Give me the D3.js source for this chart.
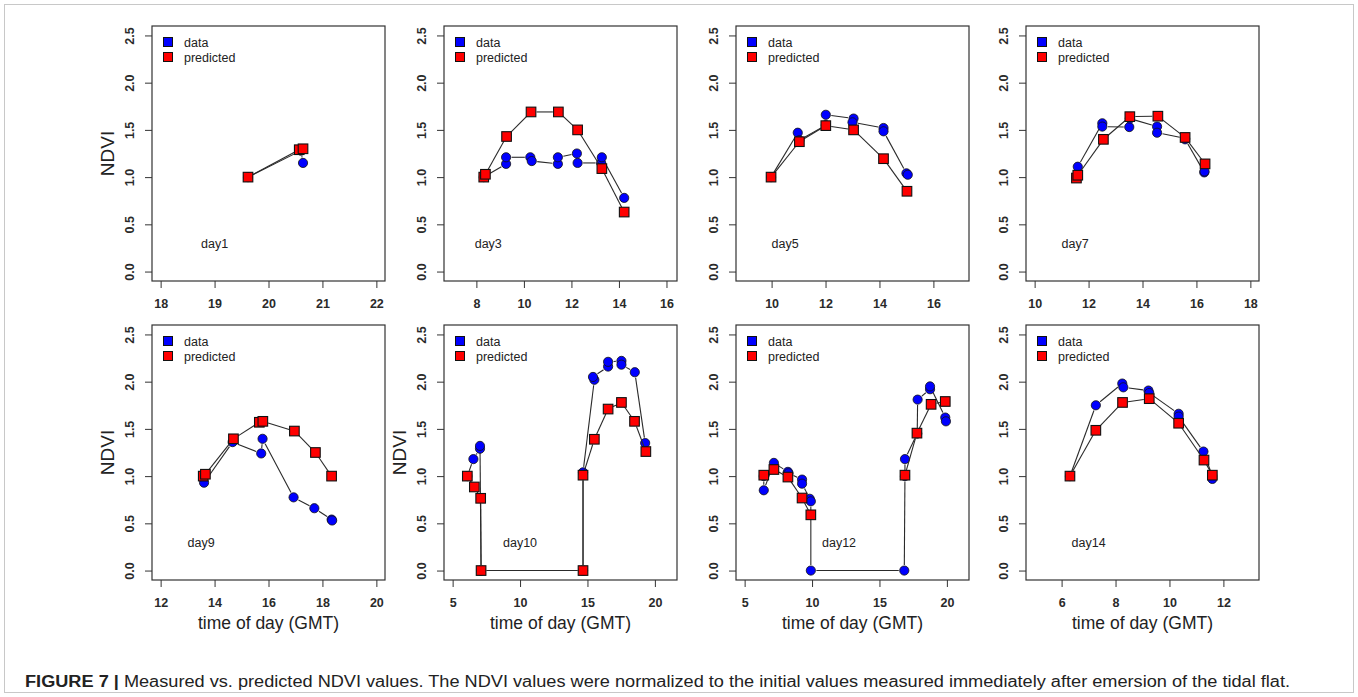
<!DOCTYPE html>
<html>
<head>
<meta charset="utf-8">
<script src="https://cdn.jsdelivr.net/npm/d3@7"></script>
<style>
  body { margin: 0; background: #fff; }
  svg { display: block; font-family: "Liberation Sans", Arial, sans-serif; }
</style>
</head>
<body>
<svg id="fig" width="1358" height="697"></svg>
<script>
// ---- data ----
let days = ["day1", "day3", "day5", "day7", "day9", "day10", "day12", "day14"];

// x axis limits (before R's 4% padding) and tick values
let xLimits = [[18, 22], [7, 16.08], [9, 17], [10, 18], [12, 20], [5, 21], [5, 21], [5, 13]];
let xTicks = [
    [18, 19, 20, 21, 22], [8, 10, 12, 14, 16], [10, 12, 14, 16], [10, 12, 14, 16, 18],
    [12, 14, 16, 18, 20], [5, 10, 15, 20], [5, 10, 15, 20], [6, 8, 10, 12]
];
let yTicks = [0, 0.5, 1, 1.5, 2, 2.5];

// measured NDVI (time GMT, value)
let dataTime = [
    [19.62, 20.6, 20.64],
    [8.31, 9.25, 9.25, 10.27, 10.33, 11.43, 11.43, 12.23, 12.26, 13.25, 13.28, 14.22],
    [9.98, 10.97, 11.03, 12.01, 12.01, 13.04, 13.0, 14.15, 14.15, 15.0, 15.05],
    [11.55, 11.6, 12.51, 12.51, 13.51, 13.53, 14.54, 14.54, 15.58, 15.58, 16.29, 16.3],
    [13.58, 13.61, 14.67, 15.73, 15.78, 16.93, 17.7, 18.34, 18.36],
    [6.09, 6.54, 7.03, 7.03, 7.11, 14.67, 14.67, 15.51, 15.41, 16.53, 16.53, 17.52, 17.52, 18.51, 19.28],
    [6.42, 6.42, 7.17, 8.21, 8.25, 9.26, 9.26, 9.83, 9.91, 9.91, 16.84, 16.89, 16.89, 17.8, 17.83, 18.75, 18.75, 19.88, 19.93],
    [6.31, 7.27, 8.25, 8.29, 9.22, 9.25, 10.34, 10.34, 11.26, 11.59, 11.59]
];
let dataNdvi = [
    [1.0, 1.28, 1.15],
    [1.0, 1.14, 1.21, 1.21, 1.17, 1.14, 1.21, 1.25, 1.15, 1.15, 1.21, 0.78],
    [1.0, 1.47, 1.39, 1.55, 1.66, 1.62, 1.58, 1.52, 1.485, 1.04, 1.025],
    [1.0, 1.11, 1.57, 1.535, 1.53, 1.62, 1.535, 1.47, 1.41, 1.40, 1.05, 1.06],
    [1.0, 0.93, 1.36, 1.24, 1.395, 0.775, 0.66, 0.54, 0.53],
    [1.0, 1.18, 1.29, 1.32, 0, 0, 1.04, 2.02, 2.05, 2.16, 2.21, 2.22, 2.18, 2.10, 1.35],
    [1.0, 0.85, 1.14, 1.045, 1.03, 0.963, 0.92, 0.76, 0.733, 0, 0, 1.0, 1.18, 1.45, 1.81, 1.92, 1.95, 1.62, 1.58],
    [1.0, 1.75, 1.98, 1.94, 1.906, 1.88, 1.66, 1.63, 1.26, 1.0, 0.97]
];

// predicted NDVI (null = gap in the line)
let predTime = [
    [19.62, 20.57, 20.64],
    [8.31, 8.38, 9.27, 10.3, 11.45, 12.26, 13.28, 14.22],
    [9.98, 11.03, 12.01, 13.04, 14.15, 15.02],
    [11.55, 11.6, 12.55, 13.53, 14.57, 15.58, 16.32],
    [13.58, 13.66, 14.7, 15.66, 15.79, 16.96, 17.74, 18.34],
    [6.09, 6.61, 7.08, 7.11, 14.67, 14.67, 15.51, 16.53, 17.52, 18.49, 19.33],
    [6.42, 7.17, 8.21, 9.26, 9.91, null, 16.89, 17.78, 18.83, 19.88],
    [6.31, 7.27, 8.26, 9.25, 10.34, 11.28, 11.59]
];
let predNdvi = [
    [1.0, 1.29, 1.30],
    [1.0, 1.03, 1.43, 1.69, 1.69, 1.50, 1.09, 0.63],
    [1.0, 1.375, 1.545, 1.50, 1.195, 0.85],
    [0.99, 1.02, 1.40, 1.64, 1.645, 1.42, 1.14],
    [1.0, 1.02, 1.395, 1.57, 1.58, 1.477, 1.25, 1.0],
    [1.0, 0.885, 0.765, 0, 0, 1.01, 1.39, 1.71, 1.78, 1.58, 1.26],
    [1.01, 1.07, 0.99, 0.768, 0.59, null, 1.01, 1.455, 1.76, 1.79],
    [1.0, 1.485, 1.78, 1.82, 1.56, 1.17, 1.01]
];

// where the "dayN" label sits (time, ndvi)
let dayLabelTime = [19, 8.5, 10.5, 11.5, 13.5, 10, 12, 7];
let dayLabelNdvi = 0.3;

let caption = "Measured vs. predicted NDVI values. The NDVI values were normalized to the initial values measured immediately after emersion of the tidal flat.";

// ---- layout ----
let width = 1358, height = 697;
let lefts = [152, 444, 736, 1026], tops = [26, 325];
let pw = 233, ph = 255;
let gapPx = 5.5;
let ink = "#222";

let svg = d3.select("#fig");

// outer frame
svg.append("rect")
    .attr("x", 4.5).attr("y", 4.5)
    .attr("width", width - 9).attr("height", height - 9)
    .attr("fill", "none").attr("stroke", "#c8c8c8");

function pad(lim) {
    let r = lim[1] - lim[0];
    return [lim[0] - 0.04 * r, lim[1] + 0.04 * r];
}

// R's type="b": segments with a gap around every point
function gappedSegments(g, xs, ys, x, y) {
    for (let k = 0; k < xs.length - 1; k++) {
        if (xs[k] == null || xs[k + 1] == null) continue;
        let x0 = x(xs[k]), y0 = y(ys[k]), x1 = x(xs[k + 1]), y1 = y(ys[k + 1]);
        let len = Math.hypot(x1 - x0, y1 - y0);
        if (len <= 2 * gapPx) continue;
        let ux = (x1 - x0) / len, uy = (y1 - y0) / len;
        g.append("line")
            .attr("x1", x0 + ux * gapPx).attr("y1", y0 + uy * gapPx)
            .attr("x2", x1 - ux * gapPx).attr("y2", y1 - uy * gapPx)
            .attr("stroke", "#2a2a2a").attr("stroke-width", 1.1);
    }
}

function drawPanel(i) {
    let col = i % 4, row = Math.floor(i / 4);
    let g = svg.append("g").attr("transform", `translate(${lefts[col]},${tops[row]})`);

    let x = d3.scaleLinear().domain(pad(xLimits[i])).range([0, pw]);
    let y = d3.scaleLinear().domain(pad([0, 2.5])).range([ph, 0]);

    // axes
    let xa = g.append("g").attr("transform", `translate(0,${ph})`)
        .call(d3.axisBottom(x).tickValues(xTicks[i]).tickSize(7).tickPadding(11).tickFormat(d3.format("d")));
    let ya = g.append("g")
        .call(d3.axisLeft(y).tickValues(yTicks).tickSize(7).tickFormat(d3.format(".1f")));
    [xa, ya].forEach(a => {
        a.select(".domain").remove();
        a.selectAll("line").attr("stroke", "#333");
        a.selectAll("text").attr("font-size", 12.5).attr("font-weight", "bold").attr("fill", "#2a2a2a")
            .attr("font-family", "Liberation Sans, Arial, sans-serif");
    });
    ya.selectAll("text")
        .attr("x", null).attr("dy", "0.36em")
        .attr("text-anchor", "middle")
        .attr("transform", "translate(-23,0) rotate(-90)");

    // box
    g.append("rect").attr("width", pw).attr("height", ph)
        .attr("fill", "none").attr("stroke", "#333").attr("stroke-width", 1.2);

    // measured series
    gappedSegments(g, dataTime[i], dataNdvi[i], x, y);
    g.selectAll("circle.obs")
        .data(dataTime[i].map((t, k) => [t, dataNdvi[i][k]]))
        .enter().append("circle")
        .attr("class", "obs")
        .attr("cx", d => x(d[0])).attr("cy", d => y(d[1]))
        .attr("r", 4.6)
        .attr("fill", "#0000ff").attr("stroke", "#111").attr("stroke-width", 0.8);

    // predicted series
    gappedSegments(g, predTime[i], predNdvi[i], x, y);
    let s = 9.6;
    g.selectAll("rect.pred")
        .data(predTime[i].map((t, k) => [t, predNdvi[i][k]]).filter(d => d[0] != null))
        .enter().append("rect")
        .attr("class", "pred")
        .attr("x", d => x(d[0]) - s / 2).attr("y", d => y(d[1]) - s / 2)
        .attr("width", s).attr("height", s)
        .attr("fill", "#ff0000").attr("stroke", "#111").attr("stroke-width", 1.1);

    // day label
    g.append("text")
        .attr("x", x(dayLabelTime[i])).attr("y", y(dayLabelNdvi)).attr("dy", "0.36em")
        .attr("text-anchor", "middle").attr("font-size", 12.5).attr("fill", ink)
        .text(days[i]);

    // legend
    let leg = [["data", "#0000ff"], ["predicted", "#ff0000"]];
    leg.forEach((l, k) => {
        let ly = 16 + k * 15;
        g.append("rect")
            .attr("x", 16 - 4.5).attr("y", ly - 4.5).attr("width", 9).attr("height", 9)
            .attr("fill", l[1]).attr("stroke", "#111");
        g.append("text")
            .attr("x", 32).attr("y", ly).attr("dy", "0.36em")
            .attr("font-size", 12.5).attr("fill", ink)
            .text(l[0]);
    });

    // axis titles
    if (col == 0 || i == 5) {
        g.append("text")
            .attr("transform", `translate(-45,${ph / 2}) rotate(-90)`)
            .attr("text-anchor", "middle").attr("dy", "0.36em")
            .attr("font-size", 19).attr("fill", ink)
            .text("NDVI");
    }
    if (row == 1) {
        g.append("text")
            .attr("x", pw / 2).attr("y", ph + 43).attr("dy", "0.36em")
            .attr("text-anchor", "middle")
            .attr("font-size", 17.5).attr("fill", ink)
            .text("time of day (GMT)");
    }
}

for (let i = 0; i < days.length; i++) drawPanel(i);

// caption
let cap = svg.append("text")
    .attr("x", 25).attr("y", 687)
    .attr("font-size", 16).attr("fill", "#222")
    .attr("textLength", 1265).attr("lengthAdjust", "spacingAndGlyphs");
cap.append("tspan").attr("font-weight", "bold").text("FIGURE 7 | ");
cap.append("tspan").text(caption);
</script>
</body>
</html>
